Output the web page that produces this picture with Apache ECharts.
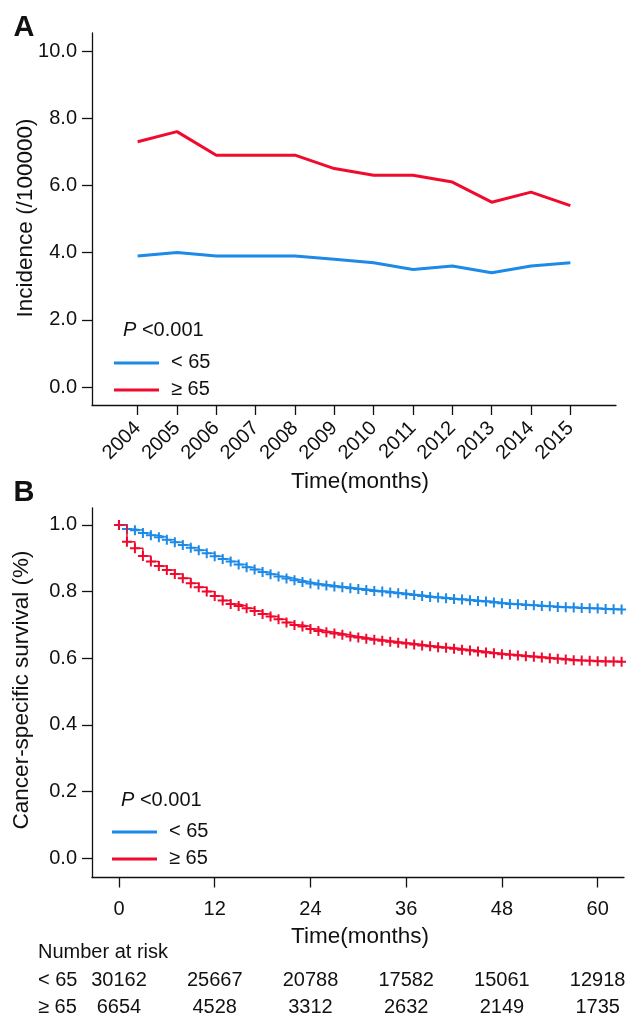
<!DOCTYPE html>
<html>
<head>
<meta charset="utf-8">
<script src="https://cdn.jsdelivr.net/npm/echarts@6/dist/echarts.min.js"></script>
<style>html,body{margin:0;padding:0;background:#fff}#c{width:626px;height:1017px}</style>
</head>
<body>
<div id="c"></div>
<script>
// ---- Panel A data ----
const years = [2004, 2005, 2006, 2007, 2008, 2009, 2010, 2011, 2012, 2013, 2014, 2015];
const incYoung = [3.9, 4.0, 3.9, 3.9, 3.9, 3.8, 3.7, 3.5, 3.6, 3.4, 3.6, 3.7];
const incOld = [7.3, 7.6, 6.9, 6.9, 6.9, 6.5, 6.3, 6.3, 6.1, 5.5, 5.8, 5.4];
const incTicks = [0, 2, 4, 6, 8, 10];

// ---- Panel B data ----
const months = [0, 1, 2, 3, 4, 5, 6, 7, 8, 9, 10, 11, 12, 13, 14, 15, 16, 17, 18, 19, 20,
  21, 22, 23, 24, 25, 26, 27, 28, 29, 30, 31, 32, 33, 34, 35, 36, 37, 38, 39, 40, 41, 42,
  43, 44, 45, 46, 47, 48, 49, 50, 51, 52, 53, 54, 55, 56, 57, 58, 59, 60, 61, 62, 63];
const survYoung = [1.000, 0.988, 0.984, 0.976, 0.969, 0.963, 0.956, 0.948, 0.940, 0.932, 0.924,
  0.915, 0.906, 0.898, 0.890, 0.881, 0.873, 0.866, 0.859, 0.852, 0.845, 0.839, 0.834, 0.829,
  0.824, 0.821, 0.818, 0.815, 0.813, 0.810, 0.808, 0.805, 0.802, 0.800, 0.797, 0.795, 0.792,
  0.790, 0.787, 0.784, 0.782, 0.780, 0.778, 0.776, 0.774, 0.772, 0.770, 0.767, 0.765, 0.763,
  0.762, 0.760, 0.759, 0.757, 0.756, 0.754, 0.753, 0.752, 0.751, 0.750, 0.749, 0.748, 0.747, 0.746];
const survOld = [1.000, 0.950, 0.930, 0.907, 0.890, 0.877, 0.865, 0.853, 0.840, 0.825, 0.813,
  0.800, 0.787, 0.773, 0.763, 0.757, 0.750, 0.742, 0.733, 0.725, 0.717, 0.707, 0.700, 0.695,
  0.688, 0.682, 0.678, 0.674, 0.670, 0.665, 0.662, 0.658, 0.655, 0.652, 0.649, 0.646, 0.644,
  0.641, 0.638, 0.636, 0.633, 0.631, 0.628, 0.625, 0.623, 0.620, 0.617, 0.615, 0.612, 0.610,
  0.608, 0.606, 0.604, 0.602, 0.600, 0.598, 0.596, 0.594, 0.593, 0.592, 0.591, 0.590, 0.590, 0.589];
const survTicks = [0, 0.2, 0.4, 0.6, 0.8, 1.0];
const monthTicks = [0, 12, 24, 36, 48, 60];
const riskYoung = [30162, 25667, 20788, 17582, 15061, 12918];
const riskOld = [6654, 4528, 3312, 2632, 2149, 1735];
const groupNames = ['< 65', '\u2265 65'];

const FONT = '"Liberation Sans", Arial, Helvetica, sans-serif';
const BLUE = '#1C8AE6';
const RED = '#F00A2E';
const INK = '#111111';
const PLUS = 'path://M4,0H6V4H10V6H6V10H4V6H0V4H4Z';

const axisLine = { show: true, onZero: false, lineStyle: { color: INK, width: 1.3 } };
function ticks(vals) {
  return { show: true, length: 10, inside: false, customValues: vals, lineStyle: { color: INK, width: 1.3 } };
}
function labels(vals, extra) {
  return Object.assign({ show: true, customValues: vals, fontSize: 20, color: INK, fontFamily: FONT }, extra);
}

const chart = echarts.init(document.getElementById('c'));

function txt(x, y, text, opt) {
  opt = opt || {};
  return {
    type: 'text', x: x, y: y, rotation: opt.rotation || 0,
    style: Object.assign({
      text: text, fill: INK, fontSize: opt.size || 20, fontFamily: FONT,
      fontWeight: opt.weight || 'normal',
      align: opt.align || 'left', verticalAlign: 'middle',
      textAlign: opt.align || 'left', textVerticalAlign: 'middle'
    }, opt.rich ? { rich: opt.rich } : {})
  };
}
function seg(x1, x2, y, color) {
  return { type: 'line', shape: { x1: x1, y1: y, x2: x2, y2: y }, style: { stroke: color, lineWidth: 3 } };
}
const pRich = { i: { fontStyle: 'italic', fontSize: 20, fontFamily: FONT, fill: INK }, n: { fontSize: 20, fontFamily: FONT, fill: INK } };

function riskSeries(row, vals) {
  return {
    type: 'scatter', xAxisIndex: 2, yAxisIndex: 2, symbolSize: 0, silent: true,
    itemStyle: { color: INK, opacity: 1 },
    label: { show: true, position: 'inside', fontSize: 20, fontFamily: FONT, color: INK,
      textBorderWidth: 0, formatter: p => String(p.value[2]) },
    emphasis: { disabled: true },
    data: monthTicks.map((t, i) => [t, row, vals[i]])
  };
}

const option = {
  animation: false,
  backgroundColor: '#fff',
  grid: [
    { left: 92, top: 33, width: 524, height: 372 },
    { left: 92, top: 508, width: 532, height: 369.5 },
    { left: 92, top: 980, width: 532, height: 27 }
  ],
  xAxis: [
    { gridIndex: 0, type: 'value', min: 2002.84, max: 2016.16, axisLine: axisLine,
      axisTick: ticks(years), splitLine: { show: false },
      axisLabel: labels(years, { rotate: 45, margin: 20, formatter: v => String(Math.round(v)) }) },
    { gridIndex: 1, type: 'value', min: -3.38, max: 63.3, axisLine: axisLine,
      axisTick: ticks(monthTicks), splitLine: { show: false },
      axisLabel: labels(monthTicks, { margin: 22, formatter: v => String(Math.round(v)) }) },
    { gridIndex: 2, type: 'value', min: -3.38, max: 63.3, show: false }
  ],
  yAxis: [
    { gridIndex: 0, type: 'value', min: -0.536, max: 10.536, axisLine: axisLine,
      axisTick: ticks(incTicks), splitLine: { show: false },
      axisLabel: labels(incTicks, { margin: 15, formatter: v => Number(v).toFixed(1) }) },
    { gridIndex: 1, type: 'value', min: -0.0586, max: 1.051, axisLine: axisLine,
      axisTick: ticks(survTicks), splitLine: { show: false },
      axisLabel: labels(survTicks, { margin: 15, formatter: v => Number(v).toFixed(1) }) },
    { gridIndex: 2, type: 'value', min: 0, max: 1, show: false }
  ],
  series: [
    { name: groupNames[0], type: 'line', xAxisIndex: 0, yAxisIndex: 0, showSymbol: false,
      lineStyle: { color: BLUE, width: 3 }, itemStyle: { color: BLUE },
      data: years.map((y, i) => [y, incYoung[i]]) },
    { name: groupNames[1], type: 'line', xAxisIndex: 0, yAxisIndex: 0, showSymbol: false,
      lineStyle: { color: RED, width: 3 }, itemStyle: { color: RED },
      data: years.map((y, i) => [y, incOld[i]]) },
    { name: groupNames[0], type: 'line', step: 'end', xAxisIndex: 1, yAxisIndex: 1, showSymbol: false,
      lineStyle: { color: BLUE, width: 1.5 }, data: months.map((t, i) => [t, survYoung[i]]) },
    { name: groupNames[1], type: 'line', step: 'end', xAxisIndex: 1, yAxisIndex: 1, showSymbol: false,
      lineStyle: { color: RED, width: 1.5 }, data: months.map((t, i) => [t, survOld[i]]) },
    { type: 'scatter', xAxisIndex: 1, yAxisIndex: 1, symbol: PLUS, symbolSize: 10,
      itemStyle: { color: BLUE, opacity: 1 }, data: months.map((t, i) => [t, survYoung[i]]) },
    { type: 'scatter', xAxisIndex: 1, yAxisIndex: 1, symbol: PLUS, symbolSize: 10,
      itemStyle: { color: RED, opacity: 1 }, data: months.map((t, i) => [t, survOld[i]]) },
    riskSeries(1, riskYoung),
    riskSeries(0, riskOld)
  ],
  graphic: [
    txt(24, 28, 'A', { size: 29, weight: 'bold', align: 'center' }),
    txt(24, 493, 'B', { size: 29, weight: 'bold', align: 'center' }),
    txt(26, 218, 'Incidence (/100000)', { size: 22.5, align: 'center', rotation: Math.PI / 2 }),
    txt(22, 690, 'Cancer-specific survival (%)', { size: 22.5, align: 'center', rotation: Math.PI / 2 }),
    txt(360, 482, 'Time(months)', { size: 22.5, align: 'center' }),
    txt(360, 937, 'Time(months)', { size: 22.5, align: 'center' }),
    // legend A
    txt(123, 330, '{i|P} {n|<0.001}', { rich: pRich }),
    seg(114, 159, 363, BLUE), seg(114, 159, 390, RED),
    txt(171, 362, groupNames[0]), txt(171, 389, groupNames[1]),
    // legend B
    txt(121, 800, '{i|P} {n|<0.001}', { rich: pRich }),
    seg(112, 157, 832, BLUE), seg(112, 157, 859, RED),
    txt(169, 831, groupNames[0]), txt(169, 858, groupNames[1]),
    // number at risk
    txt(38, 952, 'Number at risk'),
    txt(38, 980, groupNames[0]), txt(38, 1007, groupNames[1])
  ]
};
chart.setOption(option);
</script>
</body>
</html>
